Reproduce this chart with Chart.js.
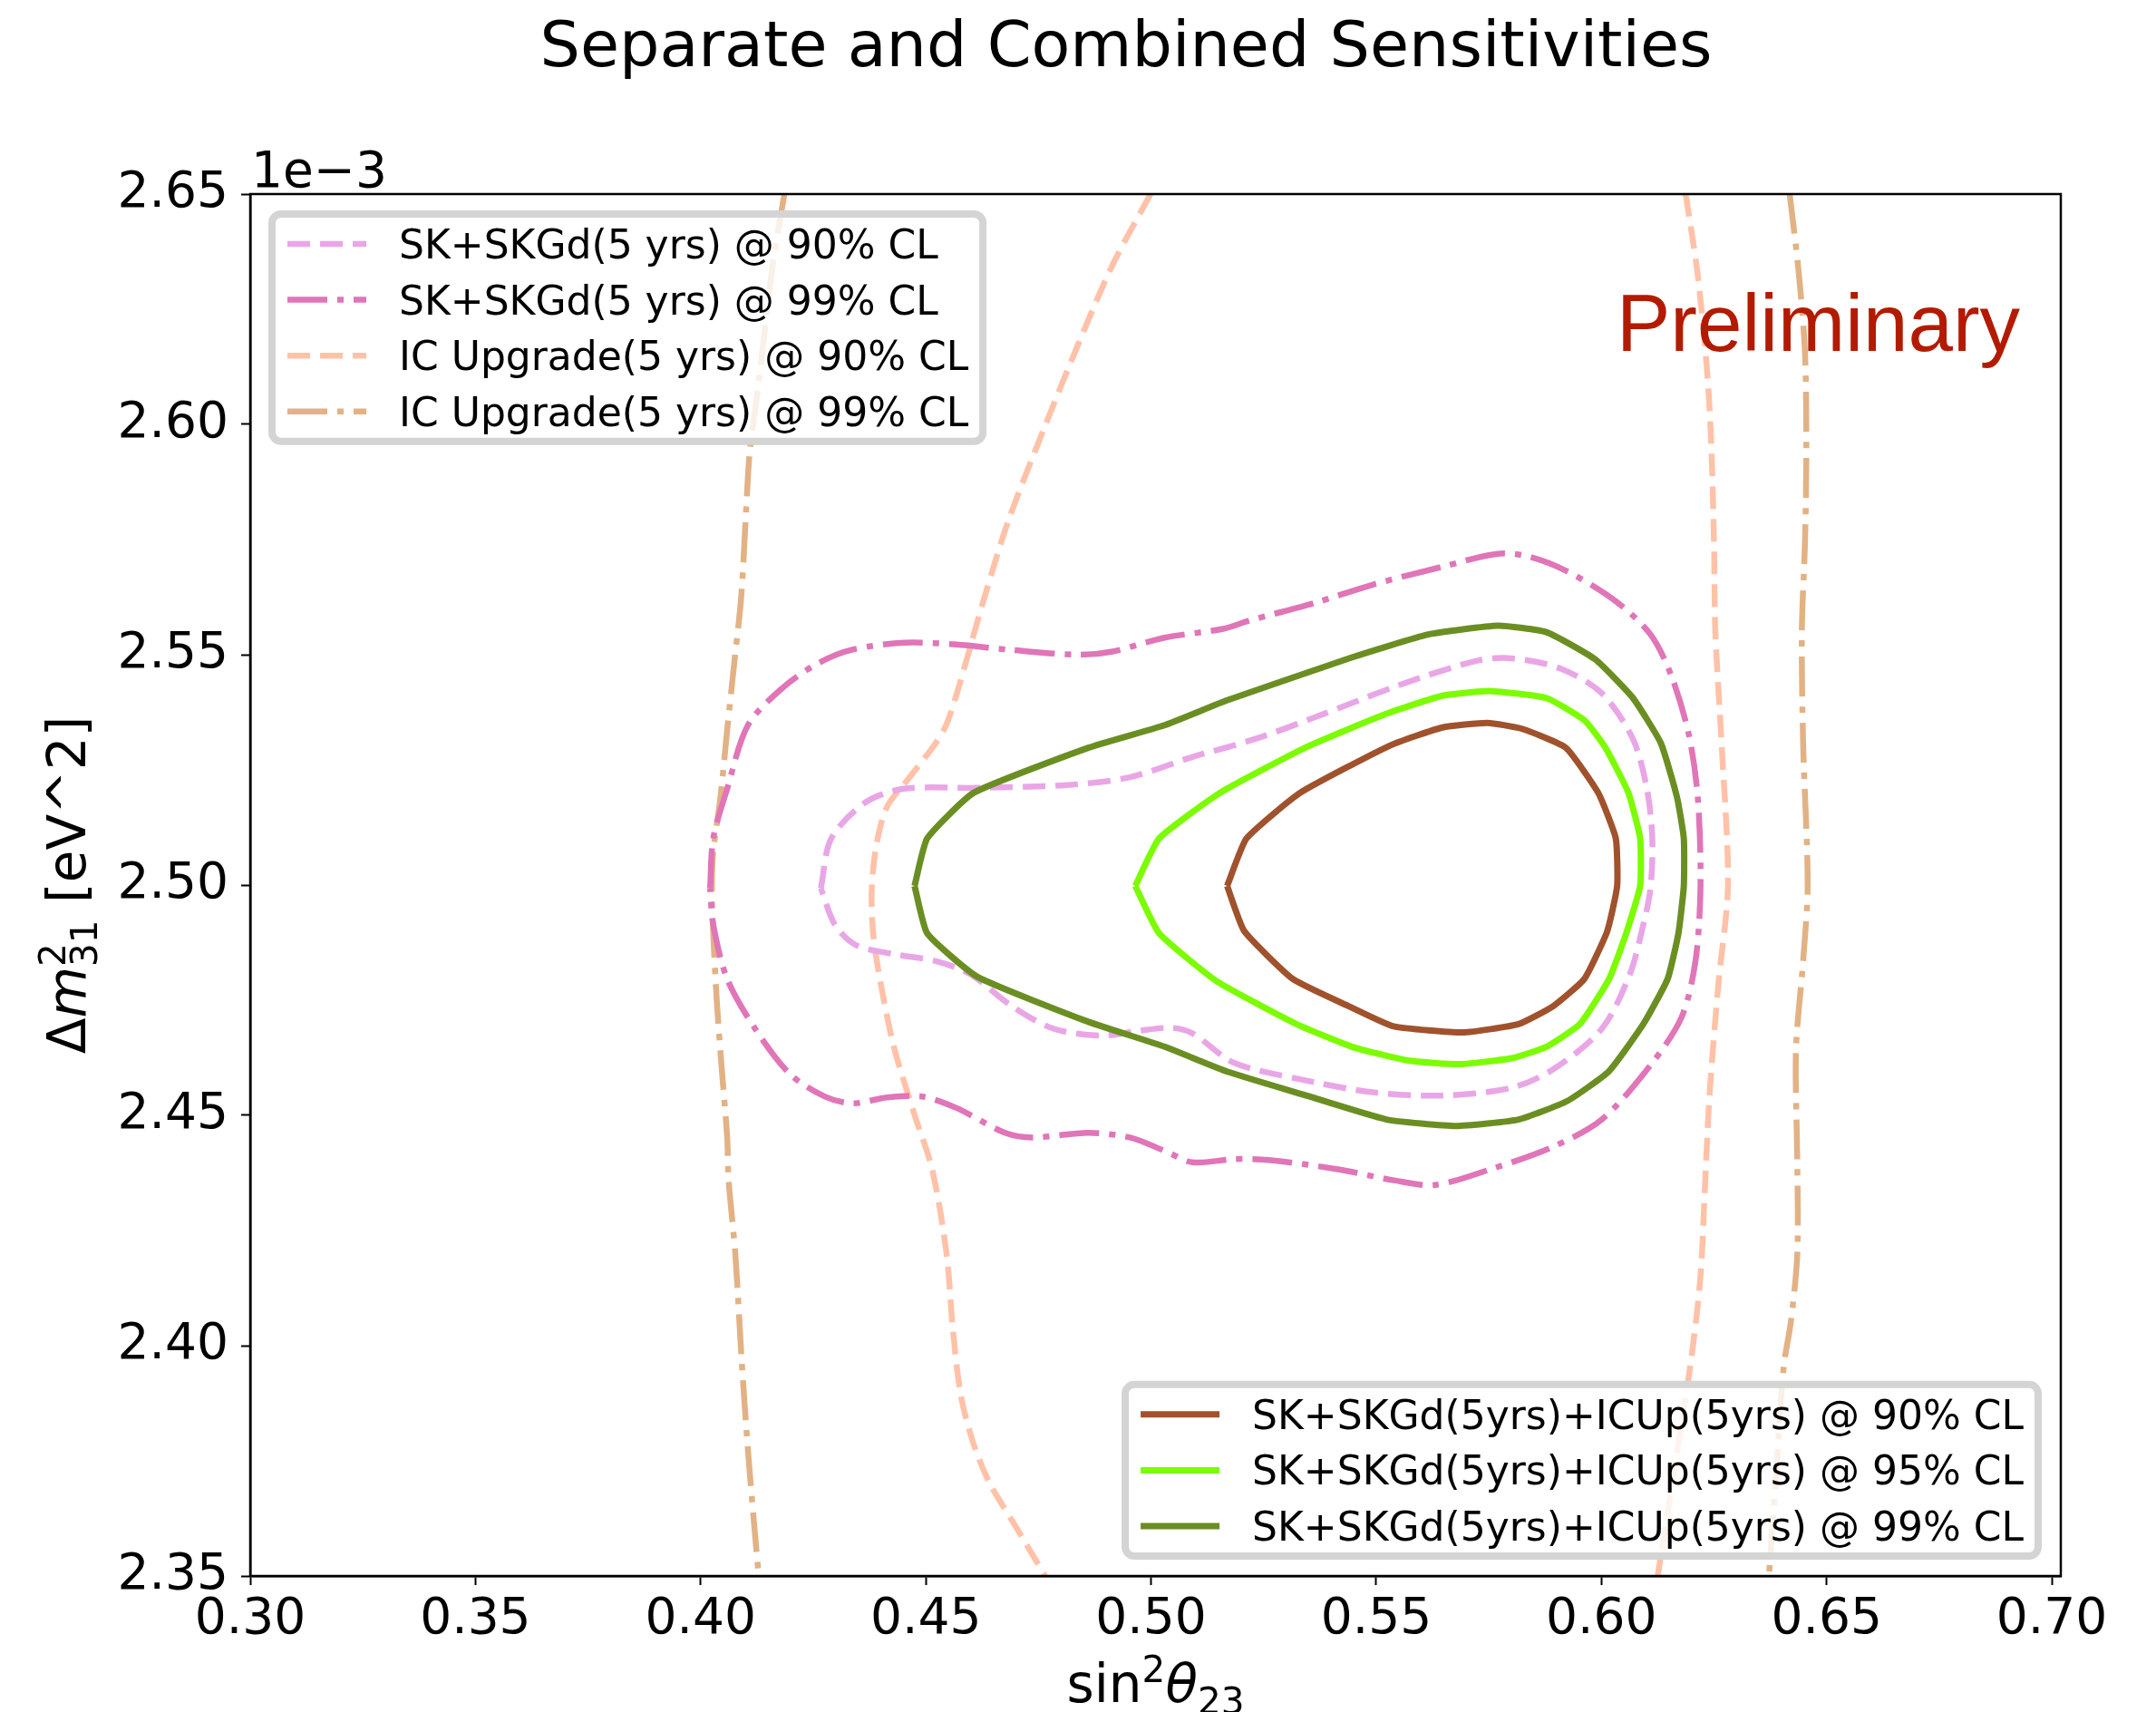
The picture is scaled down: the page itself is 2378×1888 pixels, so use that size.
<!DOCTYPE html>
<html lang="en">
  <head>
    <meta charset="UTF-8" />
    <title>Separate and Combined Sensitivities</title>
    <script src="https://cdn.jsdelivr.net/npm/chart.js@4.4.1/dist/chart.umd.min.js"></script>
    <style>
      body { margin: 0; background: #fff; }
      .chart { position: relative; width: 2378px; height: 1888px; }
    </style>
  </head>
  <body>
    <div class="chart"><canvas id="myChart"></canvas></div>
    <script>
      // x = sin^2(theta23), y = dm^2_31 in units of 1e-3 eV^2
      const xTicks = [0.30, 0.35, 0.40, 0.45, 0.50, 0.55, 0.60, 0.65, 0.70];
      const yTicks = [2.35, 2.40, 2.45, 2.50, 2.55, 2.60, 2.65];

      // combined SK+SKGd+ICUp contours
      const comb90 = [[0.5169,2.4998],[0.5212,2.5101],[0.5331,2.5200],[0.5531,2.5303],[0.5647,2.5342],[0.5747,2.5352],[0.5824,2.5339],[0.5921,2.5298],[0.5993,2.5200],[0.6032,2.5101],[0.6035,2.4998],[0.6013,2.4900],[0.5962,2.4796],[0.5893,2.4737],[0.5816,2.4698],[0.5693,2.4680],[0.5539,2.4693],[0.5439,2.4737],[0.5315,2.4796],[0.5207,2.4900],[0.5169,2.4998]];
      const comb95 = [[0.4965,2.4998],[0.5018,2.5101],[0.5153,2.5200],[0.5346,2.5300],[0.5523,2.5372],[0.5647,2.5411],[0.5754,2.5421],[0.5878,2.5406],[0.5963,2.5357],[0.6009,2.5298],[0.6060,2.5200],[0.6086,2.5101],[0.6086,2.4998],[0.6055,2.4895],[0.6017,2.4796],[0.5952,2.4698],[0.5878,2.4649],[0.5801,2.4624],[0.5685,2.4611],[0.5570,2.4619],[0.5446,2.4649],[0.5323,2.4698],[0.5146,2.4791],[0.5018,2.4895],[0.4965,2.4998]];
      const comb99 = [[0.4475,2.4998],[0.4503,2.5101],[0.4606,2.5200],[0.4861,2.5298],[0.5030,2.5347],[0.5169,2.5401],[0.5446,2.5494],[0.5616,2.5544],[0.5770,2.5563],[0.5878,2.5549],[0.5986,2.5490],[0.6070,2.5406],[0.6132,2.5308],[0.6168,2.5190],[0.6183,2.5101],[0.6183,2.4998],[0.6171,2.4895],[0.6147,2.4796],[0.6093,2.4698],[0.6016,2.4595],[0.5924,2.4531],[0.5816,2.4491],[0.5677,2.4477],[0.5523,2.4491],[0.5338,2.4545],[0.5169,2.4595],[0.5030,2.4649],[0.4861,2.4703],[0.4614,2.4801],[0.4503,2.4895],[0.4475,2.4998]];

      // SK+SKGd alone
      const sk90 = [[0.4267,2.4993],[0.4290,2.5101],[0.4367,2.5180],[0.4452,2.5209],[0.4614,2.5211],[0.4814,2.5217],[0.4953,2.5234],[0.5092,2.5278],[0.5231,2.5317],[0.5369,2.5366],[0.5554,2.5435],[0.5724,2.5487],[0.5801,2.5492],[0.5909,2.5470],[0.6001,2.5416],[0.6070,2.5317],[0.6101,2.5209],[0.6113,2.5101],[0.6109,2.4993],[0.6093,2.4914],[0.6063,2.4806],[0.6001,2.4688],[0.5893,2.4600],[0.5801,2.4560],[0.5647,2.4543],[0.5492,2.4550],[0.5323,2.4580],[0.5184,2.4614],[0.5092,2.4678],[0.5045,2.4690],[0.4969,2.4683],[0.4891,2.4673],[0.4784,2.4688],[0.4691,2.4737],[0.4599,2.4806],[0.4522,2.4835],[0.4429,2.4850],[0.4344,2.4870],[0.4298,2.4914],[0.4267,2.4993]];
      const sk99 = [[0.4021,2.4993],[0.4028,2.5101],[0.4059,2.5209],[0.4105,2.5347],[0.4182,2.5428],[0.4260,2.5481],[0.4337,2.5511],[0.4452,2.5526],[0.4568,2.5522],[0.4683,2.5511],[0.4838,2.5500],[0.4915,2.5507],[0.5030,2.5537],[0.5160,2.5556],[0.5215,2.5573],[0.5369,2.5614],[0.5492,2.5652],[0.5647,2.5691],[0.5770,2.5719],[0.5839,2.5713],[0.5924,2.5681],[0.6032,2.5616],[0.6109,2.5544],[0.6155,2.5455],[0.6194,2.5327],[0.6214,2.5190],[0.6220,2.4998],[0.6209,2.4836],[0.6178,2.4713],[0.6109,2.4609],[0.6001,2.4491],[0.5893,2.4432],[0.5754,2.4383],[0.5631,2.4349],[0.5539,2.4359],[0.5415,2.4383],[0.5261,2.4403],[0.5184,2.4405],[0.5092,2.4398],[0.5030,2.4423],[0.4953,2.4452],[0.4861,2.4462],[0.4737,2.4452],[0.4676,2.4462],[0.4568,2.4516],[0.4491,2.4541],[0.4414,2.4539],[0.4337,2.4526],[0.4275,2.4541],[0.4198,2.4590],[0.4121,2.4688],[0.4059,2.4796],[0.4028,2.4914],[0.4021,2.4993]];

      // IC Upgrade alone (open bands, left and right edges)
      const ic90Left = [[0.4999,2.650],[0.4915,2.6347],[0.4838,2.6173],[0.4760,2.5985],[0.4683,2.5790],[0.4630,2.5624],[0.4599,2.5518],[0.4568,2.5413],[0.4545,2.5347],[0.4522,2.5308],[0.4460,2.5229],[0.4414,2.5170],[0.4391,2.5091],[0.4380,2.4993],[0.4383,2.4895],[0.4398,2.4796],[0.4429,2.4649],[0.4475,2.4501],[0.4514,2.4383],[0.4546,2.4200],[0.4560,2.4036],[0.4578,2.3891],[0.4606,2.3787],[0.4642,2.3701],[0.4698,2.3610],[0.4765,2.350]];
      const ic90Right = [[0.6187,2.650],[0.6213,2.6331],[0.6233,2.6136],[0.6243,2.5979],[0.6250,2.5744],[0.6253,2.5549],[0.6267,2.5304],[0.6281,2.5001],[0.6260,2.4788],[0.6240,2.4543],[0.6230,2.4347],[0.6220,2.4151],[0.6200,2.3975],[0.6165,2.3750],[0.6125,2.350]];
      const ic99Left = [[0.4186,2.650],[0.4159,2.6339],[0.4128,2.6083],[0.4109,2.5940],[0.4101,2.5812],[0.4090,2.5624],[0.4075,2.5485],[0.4059,2.5337],[0.4044,2.5190],[0.4028,2.5072],[0.4025,2.4993],[0.4028,2.4895],[0.4036,2.4747],[0.4047,2.4600],[0.4059,2.4452],[0.4062,2.4361],[0.4077,2.4200],[0.4091,2.3970],[0.4105,2.3774],[0.4119,2.3610],[0.4129,2.350]];
      const ic99Right = [[0.6418,2.650],[0.6438,2.6331],[0.6452,2.6155],[0.6455,2.5940],[0.6452,2.5744],[0.6445,2.5549],[0.6448,2.5304],[0.6458,2.5001],[0.6448,2.4836],[0.6432,2.4641],[0.6435,2.4396],[0.6435,2.4200],[0.6421,2.4054],[0.6405,2.3956],[0.6390,2.3750],[0.6372,2.350]];

      // axis labels written as mathtext pieces: lvl 1 = superscript, -1 = subscript
      const xLabel = [{ t: 'sin' }, { t: '2', lvl: 1 }, { t: 'θ', it: true }, { t: '23', lvl: -1 }];
      const yLabel = [{ t: 'Δ' }, { t: 'm', it: true }, { t: '2', lvl: 1 }, { t: '31', lvl: -1, stack: true }, { t: ' [eV^2]' }];

      const dashed = [25, 11];
      const dashdot = [44, 11, 7, 11];

      const pts = arr => arr.map(([x, y]) => ({ x, y }));

      function series(label, data, color, dash, width, tension, legend) {
        return {
          label, data: pts(data), legend,
          showLine: true, pointRadius: 0, borderColor: color,
          borderWidth: width, borderDash: dash, tension, fill: false
        };
      }

      // first dataset is drawn on top
      const datasets = [
        series('SK+SKGd(5yrs)+ICUp(5yrs) @ 90% CL', comb90, '#a0522d', [], 7, 0.15, 'bottom'),
        series('SK+SKGd(5yrs)+ICUp(5yrs) @ 95% CL', comb95, '#7cfc00', [], 7, 0.15, 'bottom'),
        series('SK+SKGd(5yrs)+ICUp(5yrs) @ 99% CL', comb99, '#6b8e23', [], 7, 0.15, 'bottom'),
        series('SK+SKGd(5 yrs) @ 90% CL', sk90, '#e9a6e6', dashed, 6.5, 0.3, 'top'),
        series('SK+SKGd(5 yrs) @ 99% CL', sk99, '#e075b8', dashdot, 6.5, 0.3, 'top'),
        series('IC Upgrade(5 yrs) @ 90% CL', ic90Left, '#ffc2a8', dashed, 6.5, 0.3, 'top'),
        series('', ic90Right, '#ffc2a8', dashed, 6.5, 0.3, null),
        series('IC Upgrade(5 yrs) @ 99% CL', ic99Left, '#e2b285', dashdot, 6.5, 0.3, 'top'),
        series('', ic99Right, '#e2b285', dashdot, 6.5, 0.3, null)
      ];

      function drawMath(ctx, parts, size, cx, baseY, angle) {
        let x = 0, supStart = 0;
        const items = [];
        parts.forEach(p => {
          const s = p.lvl ? size * 0.7 : size;
          const font = (p.it ? 'italic ' : '') + s + 'px "DejaVu Sans"';
          ctx.font = font;
          const w = ctx.measureText(p.t).width;
          const px = p.stack ? supStart : x;
          const dy = p.lvl === 1 ? -0.38 * size : p.lvl === -1 ? 0.22 * size : 0;
          items.push({ t: p.t, font, x: px, dy });
          if (p.lvl === 1) supStart = x;
          x = p.stack ? Math.max(x, px + w) : x + w;
        });
        ctx.save();
        ctx.translate(cx, baseY);
        ctx.rotate(angle);
        ctx.fillStyle = '#000';
        ctx.textAlign = 'left';
        ctx.textBaseline = 'alphabetic';
        items.forEach(it => {
          ctx.font = it.font;
          ctx.fillText(it.t, it.x - x / 2, it.dy);
        });
        ctx.restore();
      }

      function drawLegend(ctx, items, left, top, anchorRight) {
        ctx.font = '44px "DejaVu Sans"';
        const textW = Math.max(...items.map(d => ctx.measureText(d.label).width));
        const w = 144 + textW + 20;
        const h = 37 * 2 + 61.6 * (items.length - 1);
        const x = anchorRight ? left - w : left;
        const y = top;
        ctx.fillStyle = 'rgba(255,255,255,0.8)';
        ctx.strokeStyle = '#d4d4d4';
        ctx.lineWidth = 8;
        ctx.setLineDash([]);
        ctx.beginPath();
        ctx.roundRect(x + 4, y + 4, w - 8, h - 8, 10);
        ctx.fill();
        ctx.stroke();
        items.forEach((d, i) => {
          const ry = y + 37 + i * 61.6;
          ctx.strokeStyle = d.borderColor;
          ctx.lineWidth = d.borderWidth;
          ctx.setLineDash(d.borderDash);
          ctx.beginPath();
          ctx.moveTo(x + 21, ry);
          ctx.lineTo(x + 108, ry);
          ctx.stroke();
          ctx.setLineDash([]);
          ctx.fillStyle = '#000';
          ctx.textAlign = 'left';
          ctx.textBaseline = 'alphabetic';
          ctx.fillText(d.label, x + 144, ry + 16);
        });
      }

      const decorations = {
        id: 'decorations',
        afterDraw(chart) {
          const { ctx, chartArea: a } = chart;
          ctx.save();
          ctx.strokeStyle = '#000';
          ctx.lineWidth = 2.5;
          ctx.strokeRect(a.left, a.top, a.right - a.left, a.bottom - a.top);

          ctx.fillStyle = '#000';
          ctx.textBaseline = 'alphabetic';
          ctx.textAlign = 'center';
          ctx.font = '70px "DejaVu Sans"';
          ctx.fillText('Separate and Combined Sensitivities', 1242, 73);

          ctx.textAlign = 'left';
          ctx.font = '55px "DejaVu Sans"';
          ctx.fillText('1e\u22123', a.left + 1, a.top - 8);

          ctx.fillStyle = '#b31b00';
          ctx.font = '89px "Liberation Sans"';
          ctx.fillText('Preliminary', 1783, 387);

          drawMath(ctx, xLabel, 58, (a.left + a.right) / 2, 1877, 0);
          drawMath(ctx, yLabel, 58, 94, (a.top + a.bottom) / 2, -Math.PI / 2);

          const ds = chart.data.datasets;
          drawLegend(ctx, ds.filter(d => d.legend === 'top'), a.left + 20, a.top + 18, false);
          const bottomItems = ds.filter(d => d.legend === 'bottom');
          drawLegend(ctx, bottomItems, a.right - 21, a.bottom - 18 - (37 * 2 + 61.6 * (bottomItems.length - 1)), true);
          ctx.restore();
        }
      };

      Chart.defaults.font.family = '"DejaVu Sans"';
      Chart.defaults.color = '#000';

      const axisGrid = { drawOnChartArea: false, tickLength: 10, tickWidth: 2, tickColor: '#000' };

      new Chart(document.getElementById('myChart'), {
        type: 'scatter',
        data: { datasets },
        options: {
          responsive: true,
          maintainAspectRatio: false,
          animation: false,
          layout: { padding: { top: 214, right: 105, bottom: 0, left: 0 } },
          plugins: { legend: { display: false }, tooltip: { enabled: false } },
          scales: {
            x: {
              type: 'linear', min: 0.3, max: 0.702,
              afterBuildTicks: s => { s.ticks = xTicks.map(v => ({ value: v })); },
              afterFit: s => { s.height = 150; },
              ticks: { font: { size: 55 }, padding: 6, maxRotation: 0, autoSkip: false, callback: v => v.toFixed(2) },
              grid: axisGrid,
              border: { color: '#000', width: 2.5 }
            },
            y: {
              type: 'linear', min: 2.35, max: 2.65,
              afterBuildTicks: s => { s.ticks = yTicks.map(v => ({ value: v })); },
              afterFit: s => { s.width = 276; },
              ticks: { font: { size: 55 }, padding: 14, autoSkip: false, callback: v => v.toFixed(2) },
              grid: axisGrid,
              border: { color: '#000', width: 2.5 }
            }
          }
        },
        plugins: [decorations]
      });
    </script>
  </body>
</html>
